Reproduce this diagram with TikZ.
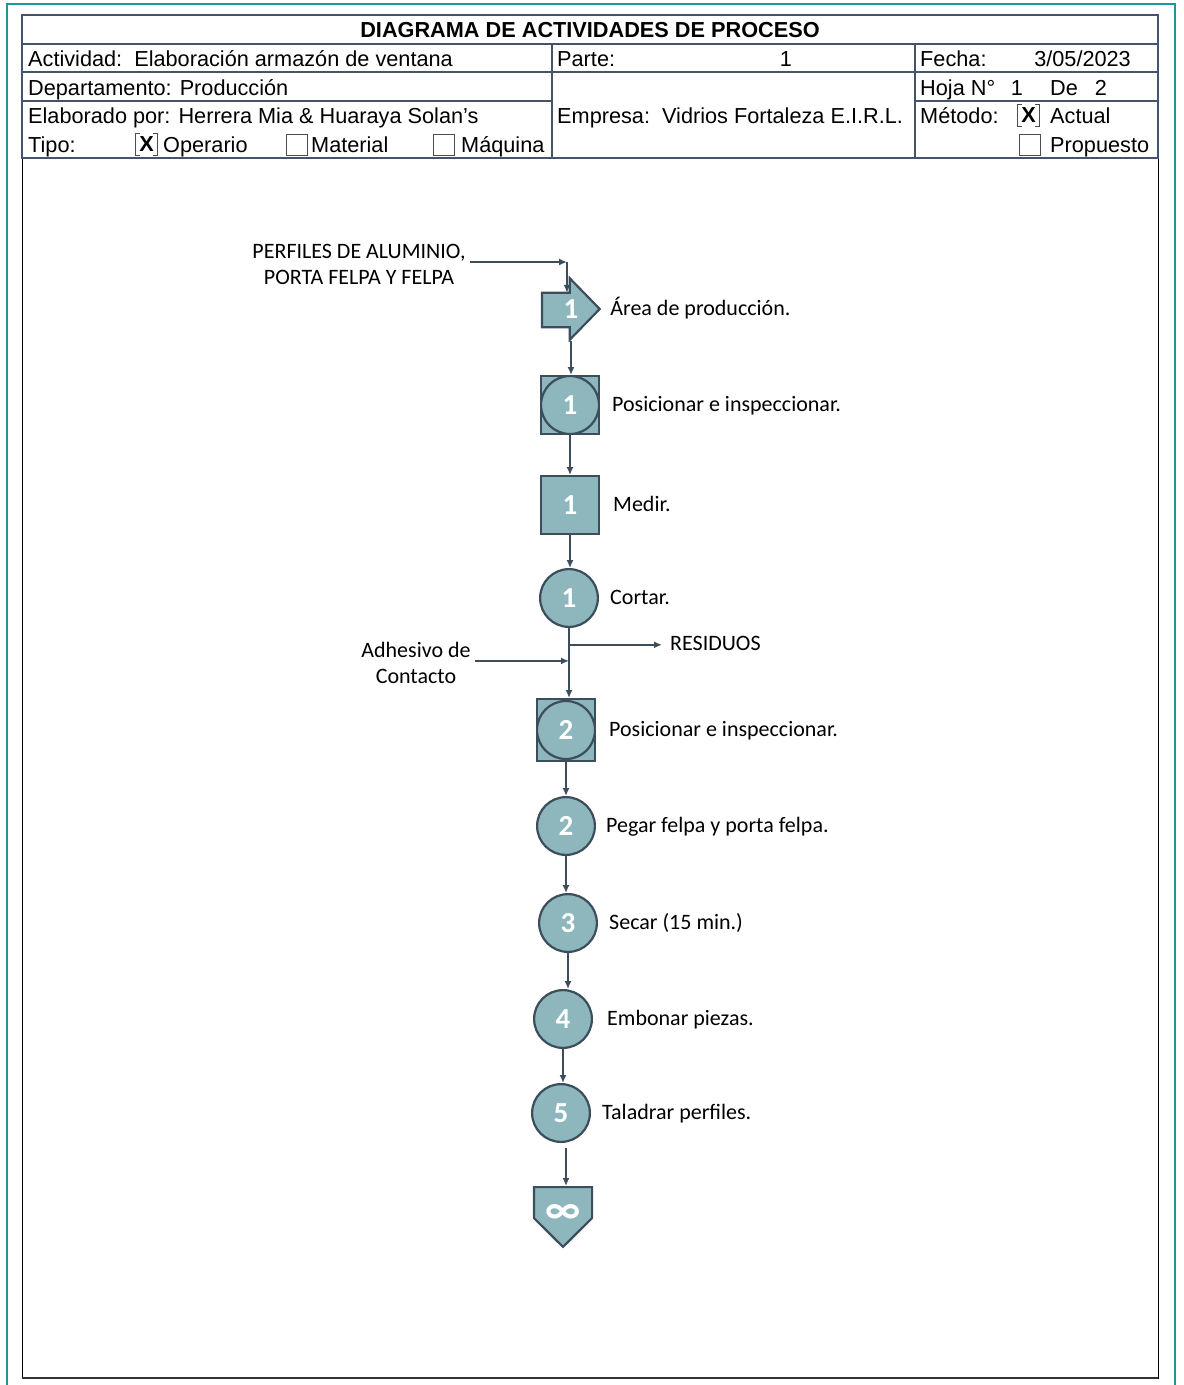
\documentclass[tikz,border=0pt]{standalone}
\usepackage{fontspec}
\setmainfont{Liberation Sans}
\newfontfamily\calib{Carlito}
\usetikzlibrary{positioning, calc, arrows.meta}
\usetikzlibrary{backgrounds}

\definecolor{symfill}{RGB}{141,183,189}
\definecolor{symline}{RGB}{60,77,92}
\definecolor{gridline}{RGB}{68,84,106}
\definecolor{pagebreak}{RGB}{30,150,155}

\newcommand{\numfont}{\calib\bfseries\fontsize{29}{29}\selectfont}
\newcommand{\cellfont}{\fontsize{21.7}{24}\selectfont}
\newcommand{\lblfont}{\calib\fontsize{22}{26}\selectfont}

\tikzset{
	oper/.style={draw=symline, circle, line width=2.2pt, minimum size=57.8pt, inner sep=0pt, fill=symfill, text=white, font=\numfont},
	insp/.style={draw=symline, rectangle, line width=2.2pt, minimum size=57.8pt, inner sep=0pt, fill=symfill, text=white, font=\numfont},
	combo/.style={insp, path picture={\draw[symline, line width=2.2pt] (path picture bounding box.center) circle (29pt);}},
	% transport and storage: only the box, outline drawn behind
	trans/.style={rectangle, minimum width=60pt, minimum height=64pt, inner sep=0pt, text=white, font=\numfont},
	almac/.style={rectangle, minimum width=60pt, minimum height=62pt, inner sep=0pt, text=white, font=\numfont},
	symbox/.style={draw=symline, fill=symfill, line width=2.2pt, line join=miter},
	% texts of the flow
	lbl/.style={anchor=west, inner sep=0pt, text height=17pt, text depth=4pt, font=\lblfont},
	lbl2/.style={align=center, inner sep=4pt, font=\lblfont},
	% header cells
	cell/.style={anchor=base west, inner sep=0pt, font=\cellfont},
	chk/.style={draw=black!70, rectangle, line width=0.9pt, minimum size=21pt, inner sep=0pt},
	chkx/.style={rectangle, minimum size=21pt, inner sep=0pt, font=\cellfont\bfseries},
}

\begin{document}
\begin{tikzpicture}[x=1pt, y=-1pt]
	\useasboundingbox (0,0) rectangle (1184,1385);
	% page break marks
	\draw[pagebreak, line width=1.2pt] (7,1385) -- (7,4) -- (1175,4) -- (1175,1385);
	
	% frame and header grid
	\draw[line width=1pt] (22,158) rectangle (1158,1378);
	\draw[line width=2.2pt, black!80] (22,1378) -- (1158,1378);
	\draw[gridline, line width=1.3pt] (22,15) rectangle (1158,158);
	\draw[gridline, line width=1.3pt] (22,44) -- (1158,44) (22,72) -- (1158,72)
		(22,101) -- (552,101) (915,101) -- (1158,101)
		(552,44) -- (552,158) (915,44) -- (915,158);
	
	\node (tit) [cell, anchor=base, font=\cellfont\bfseries] at (590,37) {DIAGRAMA DE ACTIVIDADES DE PROCESO};
	\node (act) [cell] at (28,66) {Actividad:\ \ Elaboración armazón de ventana};
	\node (parte) [cell] at (557,66) {Parte:};
	\node (parten) [cell, anchor=base] at (786,66) {1};
	\node (fecha) [cell] at (920,66) {Fecha:};
	\node (fechav) [cell, anchor=base east] at (1131,66) {3/05/2023};
	\node (dep) [cell] at (28,95) {Departamento: Producción};
	\node (hoja) [cell] at (920,95) {Hoja N°};
	\node (hojan) [cell, anchor=base] at (1017,95) {1};
	\node (de) [cell] at (1050,95) {De};
	\node (den) [cell, anchor=base] at (1101,95) {2};
	\node (elab) [cell] at (28,123) {Elaborado por: Herrera Mia \& Huaraya Solan’s};
	\node (emp) [cell] at (557,123) {Empresa:\ \ Vidrios Fortaleza E.I.R.L.};
	\node (met) [cell] at (920,123) {Método:};
	\node (actx) [chkx] at (1028.5,115.5) {X};
	\node (actual) [cell] at (1050,123) {Actual};
	\node (prop) [chk] at (1029.5,144.5) {};
	\node (propt) [cell] at (1050,152) {Propuesto};
	\node (tipo) [cell] at (28,152) {Tipo:};
	\node (opx) [chkx] at (146.5,144.5) {X};
	\node (opt) [cell] at (163,152) {Operario};
	\node (mat) [chk] at (296.5,144.5) {};
	\node (matt) [cell] at (311,152) {Material};
	\node (maq) [chk] at (443.5,144.5) {};
	\node (maqt) [cell] at (461,152) {Máquina};
	\foreach \b in {opx, actx} {
		\draw[black!70, line width=0.9pt] ([xshift=4pt]\b.north west) -- (\b.north west) -- (\b.south west) -- ([xshift=4pt]\b.south west);
		\draw[black!70, line width=0.9pt] ([xshift=-4pt]\b.north east) -- (\b.north east) -- (\b.south east) -- ([xshift=-4pt]\b.south east);
	}
	
	% flow
	\node (tr1) [trans] at (571,309) {1};
	\node (cb1) [combo] at (570,405) {1};
	\node (sq1) [insp, below=40pt of cb1] {1};
	\node (ci1) [oper, below=33pt of sq1, xshift=-1pt] {1};
	\node (cb2) [combo, minimum height=61.8pt, below=70pt of ci1, xshift=-3pt] {2};
	\node (ci2) [oper, below=34pt of cb2] {2};
	\node (ci3) [oper, below=37pt of ci2, xshift=2pt] {3};
	\node (ci4) [oper, below=36pt of ci3, xshift=-5pt] {4};
	\node (ci5) [oper, below=34pt of ci4, xshift=-2pt] {5};
	\node (st1) [almac, below=43pt of ci5, xshift=2pt] {\fontsize{42}{42}\selectfont\raisebox{7pt}{∞}};
	\begin{scope}[on background layer]
		\draw[symbox] ([shift={(1.1,16)}]tr1.north west) -- ([shift={(29,16)}]tr1.north west)
			-- ([shift={(29,1.5)}]tr1.north west) -- ([xshift=-1.5pt]tr1.east)
			-- ([shift={(29,-1.5)}]tr1.south west) -- ([shift={(29,-14)}]tr1.south west)
			-- ([shift={(1.1,-14)}]tr1.south west) -- cycle;
		\draw[symbox] ([shift={(1.1,1.1)}]st1.north west) -- ([shift={(-1.1,1.1)}]st1.north east)
			-- ([shift={(-1.1,32)}]st1.north east) -- ([yshift=1.5pt]st1.south)
			-- ([shift={(1.1,32)}]st1.north west) -- cycle;
	\end{scope}
	
	\node (l0) [lbl, right=9pt of tr1] {Área de producción.};
	\node (l1) [lbl, right=12pt of cb1] {Posicionar e inspeccionar.};
	\node (l2) [lbl, right=13pt of sq1] {Medir.};
	\node (l3) [lbl, right=11pt of ci1] {Cortar.};
	\node (l4) [lbl, right=13pt of cb2] {Posicionar e inspeccionar.};
	\node (l5) [lbl, right=10pt of ci2] {Pegar felpa y porta felpa.};
	\node (l6) [lbl, right=11pt of ci3] {Secar (15 min.)};
	\node (l7) [lbl, right=14pt of ci4] {Embonar piezas.};
	\node (l8) [lbl, right=11pt of ci5] {Taladrar perfiles.};
	
	% inputs and outputs
	\node (perf) [lbl2] at (359,264) {PERFILES DE ALUMINIO,\\PORTA FELPA Y FELPA};
	\coordinate (in1) at (567,262);
	\coordinate (tr1top) at ([shift={(0,16)}]tr1.north);
	\node (adh) [lbl2] at (416,663) {Adhesivo de\\Contacto};
	\coordinate (out1) at ($(ci1.south)!0.24!(ci1.south |- cb2.north)$);
	\coordinate (in2) at ($(ci1.south)!0.47!(ci1.south |- cb2.north)$);
	\node (res) [lbl] at (670,644) {RESIDUOS};
	
	\begin{scope}[symline, line width=1.6pt, ->, >={Latex[length=8pt, width=7pt]}]
		\draw (perf.east |- in1) -- (in1);
		\draw (in1) -- (in1 |- tr1top);
		\draw (tr1.south) -- (tr1.south |- cb1.north);
		\draw (cb1.south) -- (cb1.south |- sq1.north);
		\draw (sq1.south) -- (sq1.south |- ci1.north);
		\draw (ci1.south) -- (ci1.south |- cb2.north);
		\draw (out1) -- ([xshift=-8pt]res.west |- out1);
		\draw (adh.east |- in2) -- (in2);
		\draw (cb2.south) -- (cb2.south |- ci2.north);
		\draw (ci2.south) -- (ci2.south |- ci3.north);
		\draw (ci3.south) -- (ci3.south |- ci4.north);
		\draw (ci4.south) -- (ci4.south |- ci5.north);
		\draw[shorten <=5pt] ([xshift=5pt]ci5.south) -- ([xshift=5pt]ci5.south |- st1.north);
	\end{scope}
\end{tikzpicture}
\end{document}
